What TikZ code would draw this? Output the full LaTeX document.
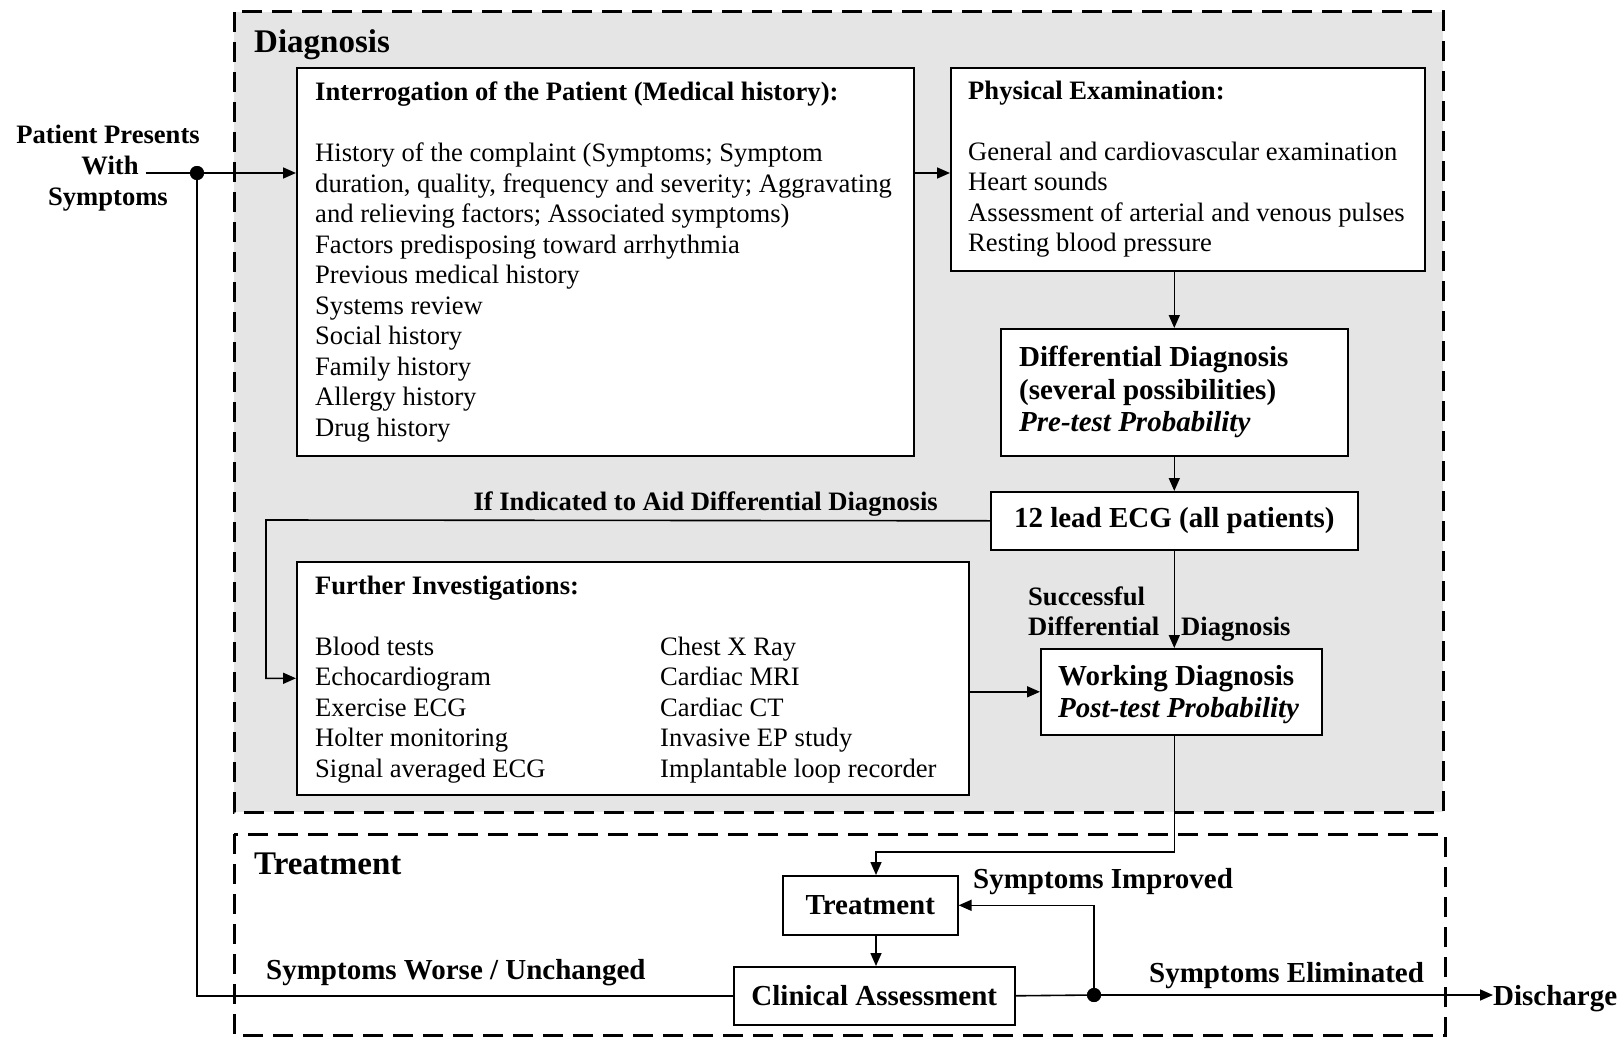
\documentclass[tikz,border=0pt]{standalone}
\usepackage{fontspec}
\setmainfont{Liberation Serif}
\usetikzlibrary{arrows.meta}

\tikzset{
  frame/.style={line width=3pt, dash pattern=on 20pt off 10pt},
  box/.style={draw, line width=1.6pt, fill=white, inner sep=0pt},
  body/.style={font=\fontsize{26.6}{30.5}\selectfont, align=left, inner sep=0pt},
  lbl/.style={font=\bfseries\fontsize{29}{32.5}\selectfont, inner sep=0pt},
  lblsm/.style={font=\bfseries\fontsize{26.6}{29.5}\selectfont, inner sep=0pt},
  title/.style={font=\bfseries\fontsize{33}{38}\selectfont, inner sep=0pt},
  conn/.style={line width=1.6pt},
  arr/.style={conn, -{Triangle[length=13pt,width=11pt]}},
  junction/.style={circle, fill, inner sep=0pt, minimum size=14pt},
}

\begin{document}
\begin{tikzpicture}[x=1pt, y=-1pt]
  \useasboundingbox (0,0) rectangle (1618,1038);
  \fill[white] (0,0) rectangle (1618,1038);

  % dashed stage frames
  \draw[frame, fill=gray!20] (234,12) rectangle (1443,812);
  \draw[frame] (234,834) rectangle (1445,1035);
  \node[title, anchor=west] (diag-title) at (254,45) {Diagnosis};
  \node[title, anchor=west] (treat-title) at (254,864) {Treatment};

  % entry point
  \node[lblsm, anchor=base] (pp1) at (108,144) {Patient Presents};
  \node[lblsm, anchor=base, inner xsep=7pt] (pp2) at (110,175) {With};
  \node[lblsm, anchor=base] (pp3) at (108,205) {Symptoms};

  % history taking
  \node[box, minimum width=617pt, minimum height=388pt, anchor=north west] (interr) at (296,67) {};
  \node[body, anchor=west] (interr-txt) at ([xshift=19pt]interr.west) {%
    \textbf{Interrogation of the Patient (Medical history):}\\[30.5pt]
    History of the complaint (Symptoms; Symptom\\
    duration, quality, frequency and severity; Aggravating\\
    and relieving factors; Associated symptoms)\\
    Factors predisposing toward arrhythmia\\
    Previous medical history\\
    Systems review\\
    Social history\\
    Family history\\
    Allergy history\\
    Drug history};

  % physical examination
  \node[box, minimum width=474pt, minimum height=203pt, anchor=north west] (phys) at (950,67) {};
  \node[body, anchor=west] (phys-txt) at ([xshift=18pt]phys.west) {%
    \textbf{Physical Examination:}\\[30.5pt]
    General and cardiovascular examination\\
    Heart sounds\\
    Assessment of arterial and venous pulses\\
    Resting blood pressure};

  % differential diagnosis
  \node[box, minimum width=347pt, minimum height=127pt, anchor=north west] (diff) at (1000,328) {};
  \node[lbl, align=left, anchor=west] (diff-txt) at ([xshift=19pt]diff.west) {%
    Differential Diagnosis\\
    (several possibilities)\\
    \textit{Pre-test Probability}};

  % ECG
  \node[box, lbl, minimum width=367pt, minimum height=58pt, anchor=north west] (ecg) at (990,491) {12 lead ECG (all patients)};

  % further investigations
  \node[box, minimum width=672pt, minimum height=233pt, anchor=north west] (furth) at (296,561) {};
  \node[body, anchor=west] (furth-txt) at ([xshift=19pt,yshift=-1pt]furth.west) {%
    \textbf{Further Investigations:}\\[30.5pt]
    \makebox[345pt][l]{Blood tests}Chest X Ray\\
    \makebox[345pt][l]{Echocardiogram}Cardiac MRI\\
    \makebox[345pt][l]{Exercise ECG}Cardiac CT\\
    \makebox[345pt][l]{Holter monitoring}Invasive EP study\\
    \makebox[345pt][l]{Signal averaged ECG}Implantable loop recorder};

  % working diagnosis
  \node[box, minimum width=281pt, minimum height=86pt, anchor=north west] (work) at (1040,648) {};
  \node[lbl, align=left, anchor=west] (work-txt) at ([xshift=18pt,yshift=-3pt]work.west) {%
    Working Diagnosis\\
    \textit{Post-test Probability}};

  % treatment loop
  \node[box, lbl, minimum width=175pt, minimum height=59pt, anchor=north west] (treat) at (782,875) {Treatment};
  \node[box, lbl, minimum width=281pt, minimum height=58pt, anchor=north west] (clin) at (733,966) {Clinical Assessment};
  \node[lbl, anchor=west] (dis) at (1493,999) {Discharge};

  % connector labels
  \node[lblsm, anchor=east] (ifind) at (938,504) {If Indicated to Aid Differential Diagnosis};
  \node[lblsm, align=left, anchor=west] (succ) at (1028,614) {Successful\\Differential\hspace{22pt}Diagnosis};
  \node[lbl, anchor=west] (improved) at (973,882) {Symptoms Improved};
  \node[lbl, anchor=west] (eliminated) at (1149,976) {Symptoms Eliminated};
  \node[lbl, anchor=west] (worse) at (266,973) {Symptoms Worse / Unchanged};

  % junctions and bends
  \node[junction] (d1) at (197,173) {};
  \node[junction] (d2) at (1094,995) {};
  \coordinate (bend) at (266,520);
  \coordinate (tin) at (876,852);

  % connectors
  \draw[conn] (pp2.east |- d1) -- (d1);
  \draw[arr] (d1) -- (interr.west |- d1);
  \draw[arr] (interr.east |- d1) -- (phys.west |- d1);
  \draw[arr] (phys.south -| diff.north) -- (diff.north);
  \draw[arr] (diff.south) -- (ecg.north);
  \draw[arr] (ecg.south) -- (ecg.south |- work.north);
  \draw[arr] (ecg.west) -- (bend) |- (furth.west);
  \draw[arr] (furth.east |- work.west) -- (work.west);
  \draw[arr] (work.south -| diff.south) |- (tin) -- (tin |- treat.north);
  \draw[arr] (tin |- treat.south) -- (tin |- clin.north);
  \draw[conn] (clin.east) -- (d2);
  \draw[arr] (d2) -- (dis.west |- d2);
  \draw[arr] (d2) |- (treat.east);
  \draw[conn] (clin.west) -| (d1);

  % redraw junction dots above the lines
  \fill (d1) circle (7pt);
  \fill (d2) circle (7pt);
\end{tikzpicture}
\end{document}
